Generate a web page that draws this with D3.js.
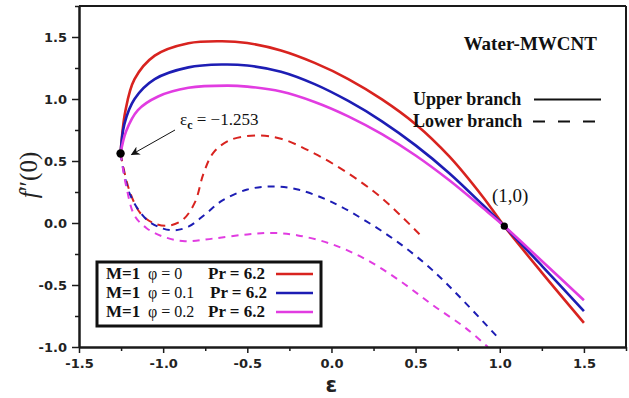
<!DOCTYPE html>
<html>
<head>
<meta charset="utf-8">
<script src="https://cdn.jsdelivr.net/npm/d3@7"></script>
<style>
  html, body { margin: 0; padding: 0; background: #fff; }
  svg { display: block; }
</style>
</head>
<body>
<svg id="chart" width="629" height="398"></svg>
<script>
// ---- data: skin friction f''(0) versus ε, Water-MWCNT, M = 1, Pr = 6.2 ----
const seriesNames = ["φ = 0", "φ = 0.1", "φ = 0.2"];
const seriesColors = ["#d8231f", "#1d1db4", "#e13ce1"];

// upper (first) branch
const upperEps0 = [-1.253, -1.225, -1.17, -1.05, -0.85, -0.65, -0.5, -0.3, -0.1, 0.1, 0.3, 0.5, 0.7, 0.9, 1.027, 1.25, 1.5];
const upperF0   = [0.56, 0.90, 1.16, 1.35, 1.45, 1.466, 1.451, 1.391, 1.291, 1.161, 0.997, 0.797, 0.537, 0.21, -0.026, -0.40, -0.805];
const upperEps1 = [-1.253, -1.23, -1.17, -1.05, -0.85, -0.65, -0.5, -0.3, -0.1, 0.1, 0.3, 0.5, 0.7, 0.9, 1.027, 1.25, 1.5];
const upperF1   = [0.56, 0.80, 1.0, 1.16, 1.255, 1.278, 1.27, 1.22, 1.12, 0.984, 0.82, 0.626, 0.402, 0.145, -0.026, -0.345, -0.711];
const upperEps2 = [-1.253, -1.22, -1.15, -1.03, -0.85, -0.62, -0.5, -0.3, -0.1, 0.1, 0.3, 0.5, 0.7, 0.9, 1.027, 1.25, 1.5];
const upperF2   = [0.56, 0.74, 0.91, 1.02, 1.09, 1.108, 1.10, 1.06, 0.976, 0.86, 0.716, 0.544, 0.344, 0.12, -0.026, -0.306, -0.623];

// lower (second) branch
const lowerEps0 = [-1.253, -1.2, -1.13, -1.04, -0.96, -0.88, -0.81, -0.76, -0.70, -0.6, -0.45, -0.3, -0.1, 0.1, 0.3, 0.53];
const lowerF0   = [0.56, 0.26, 0.07, -0.01, -0.02, 0.03, 0.17, 0.40, 0.57, 0.67, 0.705, 0.68, 0.56, 0.40, 0.20, -0.1];
const lowerEps1 = [-1.253, -1.2, -1.1, -1.0, -0.93, -0.85, -0.75, -0.65, -0.5, -0.35, -0.2, 0.0, 0.2, 0.4, 0.6, 0.8, 1.0];
const lowerF1   = [0.56, 0.24, 0.03, -0.045, -0.058, -0.03, 0.07, 0.18, 0.27, 0.295, 0.27, 0.17, 0.02, -0.16, -0.38, -0.65, -0.94];
const lowerEps2 = [-1.253, -1.22, -1.17, -1.1, -1.0, -0.87, -0.7, -0.5, -0.35, -0.2, 0.0, 0.2, 0.4, 0.6, 0.8, 0.93];
const lowerF2   = [0.56, 0.30, 0.06, -0.04, -0.11, -0.147, -0.125, -0.092, -0.08, -0.1, -0.17, -0.29, -0.46, -0.66, -0.85, -1.0];

// marked points
const criticalPoint = [-1.253, 0.56];
const crossingPoint = [1.027, -0.026];

// axis ticks
const xMajor = [-1.5, -1.0, -0.5, 0.0, 0.5, 1.0, 1.5];
const xMinor = [-1.25, -0.75, -0.25, 0.25, 0.75, 1.25, 1.75];
const yMajor = [-1.0, -0.5, 0.0, 0.5, 1.0, 1.5];
const yMinor = [-0.75, -0.25, 0.25, 0.75, 1.25, 1.75];

// ---- layout ----
const W = 629, H = 398;
const margin = { left: 79, top: 6, right: 3, bottom: 51 };
const svg = d3.select("#chart");

const x = d3.scaleLinear().domain([-1.5, 1.75]).range([margin.left, W - margin.right]);
const y = d3.scaleLinear().domain([-1.0, 1.75]).range([H - margin.bottom, margin.top]);

const serif = "'Liberation Serif', 'Times New Roman', serif";
const sans = "'DejaVu Sans', Arial, sans-serif";

const defs = svg.append("defs");
defs.append("clipPath").attr("id", "plotClip")
  .append("rect")
  .attr("x", x(-1.5)).attr("y", y(1.75))
  .attr("width", x(1.75) - x(-1.5)).attr("height", y(-1.0) - y(1.75));

const zip = (xs, ys) => xs.map((v, i) => [v, ys[i]]);
const line = d3.line()
  .x(d => x(d[0])).y(d => y(d[1]))
  .curve(d3.curveCatmullRom.alpha(0.5));

const lowerSets = [zip(lowerEps0, lowerF0), zip(lowerEps1, lowerF1), zip(lowerEps2, lowerF2)];
const upperSets = [zip(upperEps0, upperF0), zip(upperEps1, upperF1), zip(upperEps2, upperF2)];
const dashes = ["8,6", "7,6", "7,6"];

const plot = svg.append("g").attr("clip-path", "url(#plotClip)");

// dashed lower branches
lowerSets.forEach((pts, i) => {
  plot.append("path")
    .attr("d", line(pts))
    .attr("fill", "none")
    .attr("stroke", seriesColors[i])
    .attr("stroke-width", 2)
    .attr("stroke-dasharray", dashes[i]);
});

// solid upper branches
upperSets.forEach((pts, i) => {
  plot.append("path")
    .attr("d", line(pts))
    .attr("fill", "none")
    .attr("stroke", seriesColors[i])
    .attr("stroke-width", 2.6);
});

// ---- axes ----
const fmt = d => d3.format(".1f")(d).replace("\u2212", "-");
const axisColor = "#1a1a1a";

function styleAxis(g) {
  g.selectAll(".domain").attr("stroke", axisColor).attr("stroke-width", 2);
  g.selectAll(".tick line").attr("stroke", axisColor).attr("stroke-width", 1.5);
  g.selectAll(".tick text")
    .attr("fill", "#222")
    .style("font-family", sans)
    .style("font-weight", "bold")
    .style("font-size", "13px");
}

const xAxis = svg.append("g").attr("transform", `translate(0,${y(-1.0)})`)
  .call(d3.axisBottom(x).tickValues(xMajor).tickFormat(fmt).tickSize(6).tickSizeOuter(0).tickPadding(6));
styleAxis(xAxis);
const xAxisMinor = svg.append("g").attr("transform", `translate(0,${y(-1.0)})`)
  .call(d3.axisBottom(x).tickValues(xMinor).tickFormat("").tickSize(4).tickSizeOuter(0));
styleAxis(xAxisMinor);

const yAxis = svg.append("g").attr("transform", `translate(${x(-1.5)},0)`)
  .call(d3.axisLeft(y).tickValues(yMajor).tickFormat(fmt).tickSize(7).tickSizeOuter(0).tickPadding(5));
styleAxis(yAxis);
const yAxisMinor = svg.append("g").attr("transform", `translate(${x(-1.5)},0)`)
  .call(d3.axisLeft(y).tickValues(yMinor).tickFormat("").tickSize(4).tickSizeOuter(0));
styleAxis(yAxisMinor);

// top and right frame
svg.append("line")
  .attr("x1", x(-1.5)).attr("x2", x(1.75)).attr("y1", y(1.75)).attr("y2", y(1.75))
  .attr("stroke", axisColor).attr("stroke-width", 2);
svg.append("line")
  .attr("x1", x(1.75)).attr("x2", x(1.75)).attr("y1", y(1.75)).attr("y2", y(-1.0))
  .attr("stroke", axisColor).attr("stroke-width", 2);

// axis titles
svg.append("text")
  .attr("x", x(0)).attr("y", 392)
  .attr("text-anchor", "middle")
  .style("font-family", sans).style("font-weight", "bold").style("font-size", "21px")
  .attr("fill", "#222")
  .text("ε");

const yTitle = svg.append("text")
  .attr("transform", "translate(37,175) rotate(-90)")
  .attr("text-anchor", "middle")
  .style("font-family", serif).style("font-size", "25px")
  .attr("fill", "#222");
yTitle.append("tspan").style("font-style", "italic").text("f");
yTitle.append("tspan").text("″(0)");

// ---- annotations ----
svg.append("text")
  .attr("x", 597).attr("y", 50).attr("text-anchor", "end")
  .style("font-family", serif).style("font-weight", "bold").style("font-size", "19px")
  .attr("fill", "#111")
  .text("Water-MWCNT");

svg.append("text")
  .attr("x", 413).attr("y", 105)
  .style("font-family", serif).style("font-weight", "bold").style("font-size", "18px")
  .attr("fill", "#111").text("Upper branch");
svg.append("text")
  .attr("x", 413).attr("y", 127)
  .style("font-family", serif).style("font-weight", "bold").style("font-size", "18px")
  .attr("fill", "#111").text("Lower branch");
svg.append("line")
  .attr("x1", 534).attr("x2", 601).attr("y1", 99.5).attr("y2", 99.5)
  .attr("stroke", "#111").attr("stroke-width", 2.2);
svg.append("line")
  .attr("x1", 533).attr("x2", 596).attr("y1", 121.5).attr("y2", 121.5)
  .attr("stroke", "#111").attr("stroke-width", 2.2)
  .attr("stroke-dasharray", "12,13");

// critical value label and arrow
const eLabel = svg.append("text")
  .attr("x", 180).attr("y", 125)
  .style("font-family", serif).style("font-size", "17px")
  .attr("fill", "#111");
eLabel.append("tspan").text("ε");
eLabel.append("tspan").attr("dy", 4).style("font-size", "12px").style("font-weight", "bold").text("c");
eLabel.append("tspan").attr("dy", -4).text(" = −1.253");

defs.append("marker")
  .attr("id", "arrowHead")
  .attr("viewBox", "0 0 10 10")
  .attr("refX", 9).attr("refY", 5)
  .attr("markerWidth", 9).attr("markerHeight", 9)
  .attr("markerUnits", "userSpaceOnUse")
  .attr("orient", "auto")
  .append("path").attr("d", "M0,0 L10,5 L0,10 L3,5 Z").attr("fill", "#111");

svg.append("line")
  .attr("x1", 175).attr("y1", 130)
  .attr("x2", x(criticalPoint[0]) + 11).attr("y2", y(criticalPoint[1]) + 1)
  .attr("stroke", "#111").attr("stroke-width", 1)
  .attr("marker-end", "url(#arrowHead)");

svg.append("circle")
  .attr("cx", x(criticalPoint[0])).attr("cy", y(criticalPoint[1])).attr("r", 4.2)
  .attr("fill", "#000");

svg.append("circle")
  .attr("cx", x(crossingPoint[0])).attr("cy", y(crossingPoint[1])).attr("r", 3.6)
  .attr("fill", "#000");
svg.append("text")
  .attr("x", 492).attr("y", 202)
  .style("font-family", serif).style("font-size", "19px")
  .attr("fill", "#111").text("(1,0)");

// ---- legend ----
const legend = svg.append("g");
legend.append("rect")
  .attr("x", 97).attr("y", 262).attr("width", 224).attr("height", 64)
  .attr("fill", "#fff").attr("stroke", "#111").attr("stroke-width", 3);

const rowY = [279, 298, 317];
seriesNames.forEach((name, i) => {
  const row = legend.append("g");
  row.append("text").attr("x", 106).attr("y", rowY[i])
    .style("font-family", serif).style("font-weight", "bold").style("font-size", "17px")
    .attr("fill", "#111").text("M=1");
  row.append("text").attr("x", 148).attr("y", rowY[i])
    .style("font-family", serif).style("font-size", "16px")
    .attr("fill", "#111").text(name);
  row.append("text").attr("x", i === 1 ? 210 : 208).attr("y", rowY[i])
    .style("font-family", serif).style("font-weight", "bold").style("font-size", "17px")
    .attr("fill", "#111").text("Pr = 6.2");
  row.append("line")
    .attr("x1", 276).attr("x2", 313).attr("y1", rowY[i] - 5).attr("y2", rowY[i] - 5)
    .attr("stroke", seriesColors[i]).attr("stroke-width", 2.6);
});
</script>
</body>
</html>
